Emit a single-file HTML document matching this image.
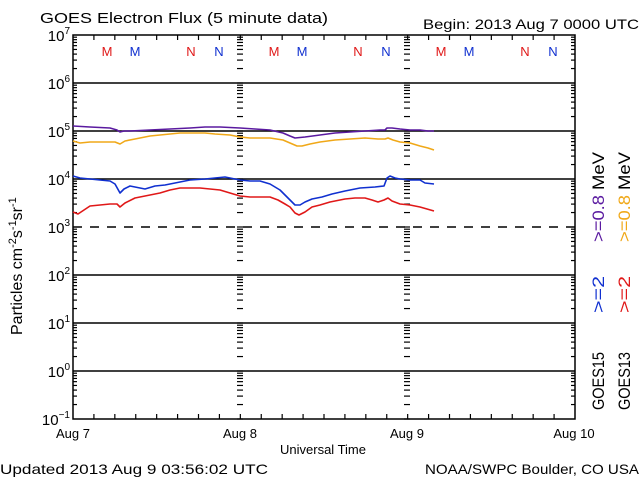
<!DOCTYPE html>
<html><head><meta charset="utf-8"><style>
html,body{margin:0;padding:0;background:#fff;}
svg{display:block;font-family:"Liberation Sans",sans-serif;}
</style></head><body>
<svg id="s" width="640" height="480" viewBox="0 0 640 480" xmlns="http://www.w3.org/2000/svg">
<rect width="640" height="480" fill="#fff"/>
<g id="ticks" stroke="#000" stroke-width="1.2"></g>
<g fill="none" stroke="#000" stroke-width="1.5">
<rect x="73" y="35" width="502" height="384"/>
<line x1="73" y1="83" x2="575" y2="83"/>
<line x1="73" y1="131" x2="575" y2="131"/>
<line x1="73" y1="179" x2="575" y2="179"/>
<line x1="73" y1="275" x2="575" y2="275"/>
<line x1="73" y1="323" x2="575" y2="323"/>
<line x1="73" y1="371" x2="575" y2="371"/>
<line x1="73" y1="227" x2="575" y2="227" stroke-dasharray="9,8"/>
</g>
<g fill="none" stroke-width="1.6" stroke-linejoin="round">
<polyline stroke="#5a1aa0" points="73,126 90,127 110,128 117,130 120,132 124,131 130,131 150,130 170,129 190,128 205,127 220,127 240,128 255,129 270,130 283,133 290,136 295,138 305,137 320,135 335,133 350,132 365,131 380,130 385,130 387,128 392,128 400,129 410,130 420,130 428,131 434,131"/>
<polyline stroke="#f0a818" points="73,141 80,143 90,142 105,142 115,142 120,144 125,141 135,139 150,136 160,135 170,134 180,133 195,133 205,133 215,134 230,135 240,137 250,138 270,138 283,140 290,143 297,146 302,146 310,144 320,142 335,140 350,139 365,138 378,139 385,139 388,138 393,140 400,142 410,143 420,146 428,148 434,150"/>
<polyline stroke="#1030d0" points="73,176 80,178 90,179 100,180 110,181 115,184 120,193 124,189 130,186 140,188 145,189 155,186 165,185 180,182 190,180 205,179 215,178 225,177 235,179 240,180 250,181 260,181 270,184 280,190 288,198 295,205 300,205 305,202 312,199 322,197 332,194 345,191 360,188 375,187 384,186 387,178 390,176 395,178 400,179 410,180 420,180 425,183 434,184"/>
<polyline stroke="#e01818" points="73,212 78,214 84,210 90,206 100,205 110,204 117,204 120,207 125,203 135,198 145,196 160,193 170,190 180,188 190,188 200,188 210,189 220,190 230,193 240,196 250,197 260,197 270,197 278,200 285,204 290,207 295,213 299,215 305,212 312,207 320,205 330,202 345,199 355,198 365,198 372,200 378,202 384,200 388,198 392,201 400,204 410,205 420,207 427,209 434,211"/>
</g>
<g font-size="13" fill="#000">
<text x="40" y="23" font-size="14.5" textLength="288" lengthAdjust="spacingAndGlyphs">GOES Electron Flux (5 minute data)</text>
<text x="423" y="29" font-size="14" textLength="216" lengthAdjust="spacingAndGlyphs">Begin: 2013 Aug 7 0000 UTC</text>
<text x="0" y="474" font-size="14" textLength="268" lengthAdjust="spacingAndGlyphs">Updated 2013 Aug  9 03:56:02 UTC</text>
<text x="425" y="474" font-size="14" textLength="214" lengthAdjust="spacingAndGlyphs">NOAA/SWPC Boulder, CO USA</text>
<text x="323" y="454" text-anchor="middle">Universal Time</text>
<text x="73" y="438" text-anchor="middle">Aug 7</text>
<text x="240" y="438" text-anchor="middle">Aug 8</text>
<text x="407" y="438" text-anchor="middle">Aug 9</text>
<text x="574" y="438" text-anchor="middle">Aug 10</text>
</g>
<g id="ylab" font-size="15" fill="#000"></g>
<g font-size="13" id="mn"></g>
<text transform="translate(22,335) rotate(-90)" font-size="16" fill="#000">Particles cm<tspan font-size="11" dy="-6">-2</tspan><tspan dy="6">s</tspan><tspan font-size="11" dy="-6">-1</tspan><tspan dy="6">sr</tspan><tspan font-size="11" dy="-6">-1</tspan></text>
<g font-size="17" lengthAdjust="spacingAndGlyphs">
<text transform="translate(604,410) rotate(-90)" fill="#000" textLength="58" lengthAdjust="spacingAndGlyphs">GOES15</text>
<text transform="translate(604,313) rotate(-90)" fill="#1030d0" textLength="37" lengthAdjust="spacingAndGlyphs">&gt;=2</text>
<text transform="translate(604,242) rotate(-90)" fill="#5a1aa0" textLength="47" lengthAdjust="spacingAndGlyphs">&gt;=0.8</text>
<text transform="translate(604,190) rotate(-90)" fill="#000" textLength="38" lengthAdjust="spacingAndGlyphs">MeV</text>
<text transform="translate(630,410) rotate(-90)" fill="#000" textLength="58" lengthAdjust="spacingAndGlyphs">GOES13</text>
<text transform="translate(630,313) rotate(-90)" fill="#e01818" textLength="37" lengthAdjust="spacingAndGlyphs">&gt;=2</text>
<text transform="translate(630,242) rotate(-90)" fill="#f0a818" textLength="47" lengthAdjust="spacingAndGlyphs">&gt;=0.8</text>
<text transform="translate(630,190) rotate(-90)" fill="#000" textLength="38" lengthAdjust="spacingAndGlyphs">MeV</text>
</g>
</svg>
<script>
var NS="http://www.w3.org/2000/svg";
function el(p,t,a,txt){var e=document.createElementNS(NS,t);for(var k in a)e.setAttribute(k,a[k]);if(txt!=null)e.textContent=txt;p.appendChild(e);return e;}
var T=document.getElementById("ticks");
for(var d=0;d<8;d++){var y0=35+48*(d+1);
 for(var m=2;m<=9;m++){var y=y0-48*Math.log10(m);
  el(T,"line",{x1:73,y1:y,x2:77,y2:y});
  el(T,"line",{x1:571,y1:y,x2:575,y2:y});
  el(T,"line",{x1:237,y1:y,x2:243,y2:y});
  el(T,"line",{x1:404,y1:y,x2:410,y2:y});
 }
 el(T,"line",{x1:237,y1:y0,x2:243,y2:y0});el(T,"line",{x1:404,y1:y0,x2:410,y2:y0});
}
for(var i=1;i<24;i++){var x=73+i*502/24;
 el(T,"line",{x1:x,y1:419,x2:x,y2:414});el(T,"line",{x1:x,y1:35,x2:x,y2:40});}
var Y=document.getElementById("ylab");
for(var e=7;e>=-1;e--){var y=35+48*(7-e);
 var t=el(Y,"text",{x:70,y:y+6,"text-anchor":"end"});
 t.appendChild(document.createTextNode("10"));
 el(t,"tspan",{dy:-7,"font-size":10},String(e).replace("-","\u2212"));
}
var M=document.getElementById("mn");
[0,167,334].forEach(function(o){
 [[107,"M","#e01818"],[135,"M","#1030d0"],[191,"N","#e01818"],[219,"N","#1030d0"]].forEach(function(a){
  el(M,"text",{x:a[0]+o,y:56,"text-anchor":"middle",fill:a[2]},a[1]);});
});
</script>
</body></html>
